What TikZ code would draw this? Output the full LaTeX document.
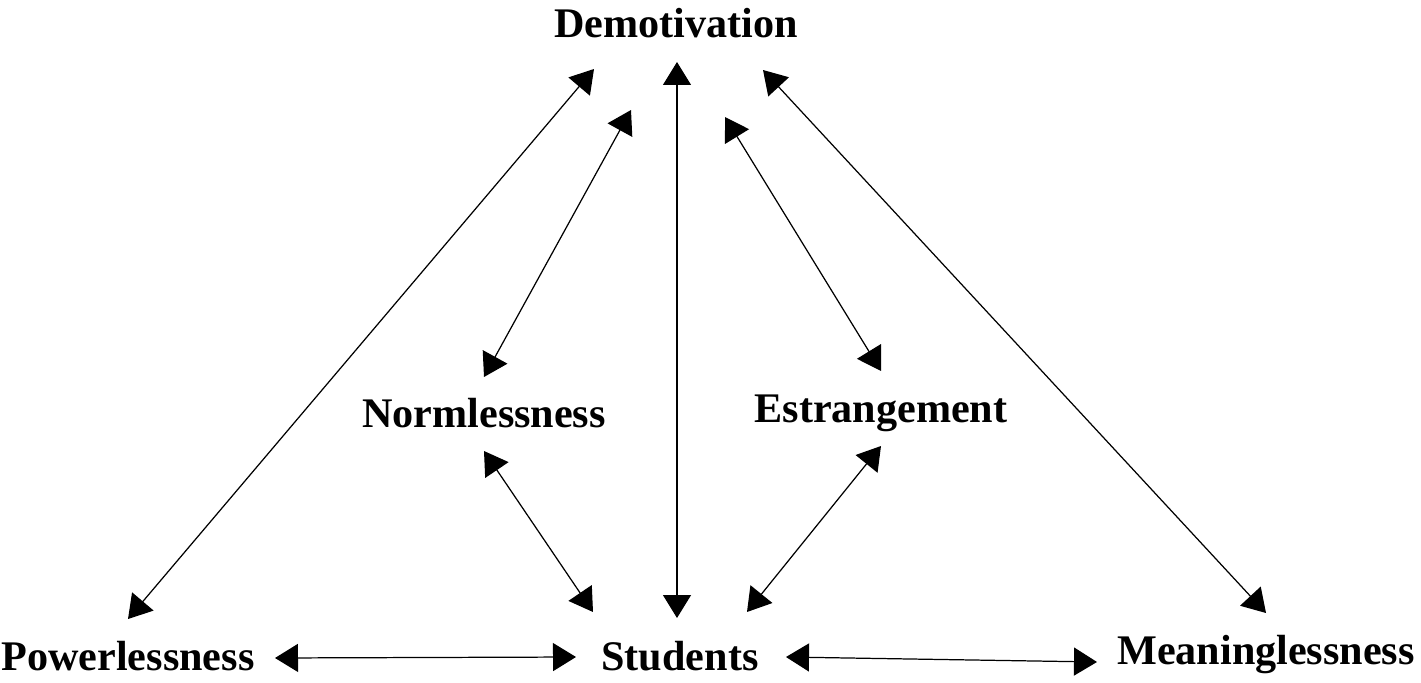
\documentclass[tikz,border=0pt]{standalone}
\usepackage{fontspec}
\setmainfont{Liberation Serif}
\usetikzlibrary{arrows.meta}

\begin{document}
\begin{tikzpicture}[x=0.02cm, y=-0.02cm,
		link/.style={{Triangle[length=0.46cm, width=0.56cm]}-{Triangle[length=0.46cm, width=0.56cm]}, line width=0.7pt}]
				\tikzstyle{every node}=[inner sep=0pt, anchor=base, font=\bfseries\fontsize{24}{28}\selectfont]
				\useasboundingbox (0, 0) rectangle (1421, 683);
				% concepts
				\node (Demotivation) at (676, 37) {Demotivation};
				\node (Normlessness) at (484, 427) {Normlessness};
				\node (Estrangement) at (881, 422) {Estrangement};
				\node (Powerlessness) at (128, 670) {Powerlessness};
				\node (Students) at (680, 670) {Students};
				\node (Meaninglessness) at (1266, 664) {Meaninglessness};
				% arrow ends
				\coordinate (DP) at (594, 69);   \coordinate (PD) at (128, 619);
				\coordinate (DN) at (631, 110);  \coordinate (ND) at (484, 377);
				\coordinate (DS) at (677, 62);   \coordinate (SD) at (677, 618);
				\coordinate (DE) at (725, 117);  \coordinate (ED) at (881, 371);
				\coordinate (DM) at (763, 70);   \coordinate (MD) at (1266, 613);
				\coordinate (NS) at (484, 451);  \coordinate (SN) at (593, 612);
				\coordinate (ES) at (881, 446);  \coordinate (SE) at (747, 612);
				\coordinate (PS) at (275, 658);  \coordinate (SP) at (576, 657);
				\coordinate (SM) at (786, 657);  \coordinate (MS) at (1097, 662);
				\draw [link] (DP) -- (PD);
				\draw [link] (DN) -- (ND);
				\draw [link] (DS) -- (SD);
				\draw [link] (DE) -- (ED);
				\draw [link] (DM) -- (MD);
				\draw [link] (NS) -- (SN);
				\draw [link] (ES) -- (SE);
				\draw [link] (PS) -- (SP);
				\draw [link] (SM) -- (MS);
		\end{tikzpicture}
\end{document}
